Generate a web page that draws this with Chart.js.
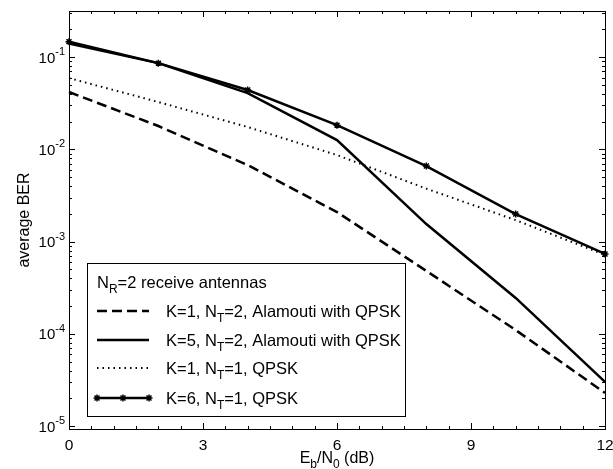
<!DOCTYPE html>
<html>
<head>
<meta charset="utf-8">
<script src="https://cdn.jsdelivr.net/npm/chart.js@4.4.1/dist/chart.umd.min.js"></script>
<style>
  html, body { margin: 0; padding: 0; background: #fff; }
  #wrap { width: 613px; height: 469px; }
</style>
</head>
<body>
<div id="wrap"><canvas id="berChart" width="613" height="469"></canvas></div>
<script>
// Eb/N0 in dB, sampled every 2 dB
const ebno = [0, 2, 4, 6, 8, 10, 12];

// average BER
const berAlamoutiK1 = [0.0418, 0.0179, 0.00676, 0.00209, 4.81e-4, 1.10e-4, 2.29e-5];
const berAlamoutiK5 = [0.140, 0.086, 0.0407, 0.0126, 1.55e-3, 2.45e-4, 3.01e-5];
const berQpskK1 = [0.0592, 0.0326, 0.01746, 8.67e-3, 3.75e-3, 1.71e-3, 7.16e-4];
const berQpskK6 = [0.147, 0.086, 0.044, 0.0183, 6.59e-3, 1.99e-3, 7.34e-4];

const seriesLabels = [
  "K=1, N_{T}=2, Alamouti with QPSK",
  "K=5, N_{T}=2, Alamouti with QPSK",
  "K=1, N_{T}=1, QPSK",
  "K=6, N_{T}=1, QPSK"
];
const legendTitle = "N_{R}=2 receive antennas";
const xTitle = "E_{b}/N_{0} (dB)";
const yTitle = "average BER";

const xTicks = [0, 3, 6, 9, 12];
const yExponents = [-1, -2, -3, -4, -5];

const FONT = "'Liberation Sans', Arial, Helvetica, sans-serif";

function toPoints(ys) {
  return ebno.map((x, i) => ({ x: x, y: ys[i] }));
}

// draws text with _{sub} and ^{sup} parts, y is the baseline
function drawRich(ctx, str, x, y, size, align) {
  const parts = [];
  const re = /([_^])\{([^}]*)\}|([^_^]+)/g;
  let m;
  while ((m = re.exec(str)) !== null) {
    if (m[1]) parts.push({ t: m[2], k: m[1] === "_" ? "sub" : "sup" });
    else parts.push({ t: m[3], k: "n" });
  }
  const small = Math.round(size * 0.72);
  let total = 0;
  parts.forEach(p => {
    ctx.font = (p.k === "n" ? size : small) + "px " + FONT;
    p.w = ctx.measureText(p.t).width;
    total += p.w;
  });
  let cx = x;
  if (align === "right") cx = x - total;
  if (align === "center") cx = x - total / 2;
  ctx.textBaseline = "alphabetic";
  ctx.textAlign = "left";
  parts.forEach(p => {
    ctx.font = (p.k === "n" ? size : small) + "px " + FONT;
    let dy = 0;
    if (p.k === "sub") dy = size * 0.33;
    if (p.k === "sup") dy = -size * 0.5;
    ctx.fillText(p.t, cx, y + dy);
    cx += p.w;
  });
}

const matlabLook = {
  id: "matlabLook",
  afterDatasetsDraw(chart) {
    const ctx = chart.ctx;
    const ca = chart.chartArea;
    const xs = chart.scales.x;
    const ys = chart.scales.y;
    ctx.save();
    ctx.strokeStyle = "#000";
    ctx.fillStyle = "#000";
    ctx.lineWidth = 1;
    ctx.setLineDash([]);

    // box
    ctx.strokeRect(ca.left + 0.5, ca.top + 0.5, ca.right - ca.left, ca.bottom - ca.top);

    // x ticks, inward on bottom and top
    ctx.beginPath();
    for (let v = 0; v <= 12; v += 0.5) {
      const px = Math.round(xs.getPixelForValue(v)) + 0.5;
      const len = v % 3 === 0 ? 6 : 3;
      ctx.moveTo(px, ca.bottom); ctx.lineTo(px, ca.bottom - len);
      ctx.moveTo(px, ca.top); ctx.lineTo(px, ca.top + len);
    }
    // y ticks (log minor), inward on left and right
    for (let e = -6; e <= 0; e++) {
      for (let k = 1; k <= 9; k++) {
        const v = k * Math.pow(10, e);
        if (v < ys.min || v > ys.max) continue;
        const py = Math.round(ys.getPixelForValue(v)) + 0.5;
        const len = k === 1 ? 6 : 3;
        ctx.moveTo(ca.left, py); ctx.lineTo(ca.left + len, py);
        ctx.moveTo(ca.right, py); ctx.lineTo(ca.right - len, py);
      }
    }
    ctx.stroke();

    // tick labels
    xTicks.forEach(v => {
      drawRich(ctx, String(v), xs.getPixelForValue(v), ca.bottom + 21, 15.5, "center");
    });
    yExponents.forEach(e => {
      const py = ys.getPixelForValue(Math.pow(10, e));
      drawRich(ctx, "10^{" + (e < 0 ? "-" + (-e) : e) + "}", ca.left - 4, py + 5.5, 15, "right");
    });

    // axis titles
    drawRich(ctx, xTitle, (ca.left + ca.right) / 2, ca.bottom + 34, 16, "center");
    ctx.save();
    ctx.translate(25, (ca.top + ca.bottom) / 2);
    ctx.rotate(-Math.PI / 2);
    ctx.font = "16px " + FONT;
    ctx.textAlign = "center";
    ctx.textBaseline = "middle";
    ctx.fillText(yTitle, 0, 0);
    ctx.restore();

    // legend box
    const bx = ca.left + 18, by = ca.bottom - 166, bw = 318, bh = 153;
    ctx.fillStyle = "#fff";
    ctx.fillRect(bx, by, bw, bh);
    ctx.strokeRect(bx + 0.5, by + 0.5, bw, bh);
    ctx.fillStyle = "#000";
    drawRich(ctx, legendTitle, bx + 10, by + 25, 16.5, "left");
    const rowY = [48, 77, 105, 135];
    chart.data.datasets.forEach((ds, i) => {
      const cy = by + rowY[i];
      ctx.save();
      ctx.strokeStyle = ds.borderColor;
      ctx.lineWidth = ds.borderWidth;
      ctx.setLineDash(ds.borderDash || []);
      ctx.beginPath();
      ctx.moveTo(bx + 10, cy);
      ctx.lineTo(bx + 62, cy);
      ctx.stroke();
      ctx.setLineDash([]);
      if (ds.pointRadius > 0) {
        ctx.strokeStyle = ds.pointBorderColor;
        ctx.lineWidth = ds.pointBorderWidth;
        [bx + 10, bx + 36, bx + 62].forEach(px => {
          Chart.helpers.drawPoint(ctx, {
            pointStyle: ds.pointStyle, radius: ds.pointRadius,
            borderWidth: ds.pointBorderWidth, rotation: 0
          }, px, cy);
        });
      }
      ctx.restore();
      ctx.fillStyle = "#000";
      drawRich(ctx, seriesLabels[i], bx + 79, cy + 6, 16.5, "left");
    });
    ctx.restore();
  }
};

new Chart(document.getElementById("berChart").getContext("2d"), {
  type: "line",
  data: {
    datasets: [
      {
        label: seriesLabels[0], data: toPoints(berAlamoutiK1),
        borderColor: "#000", borderWidth: 2.5, borderDash: [10, 5],
        pointRadius: 0, clip: 8
      },
      {
        label: seriesLabels[1], data: toPoints(berAlamoutiK5),
        borderColor: "#000", borderWidth: 2.5,
        pointRadius: 0, clip: 8
      },
      {
        label: seriesLabels[2], data: toPoints(berQpskK1),
        borderColor: "#000", borderWidth: 2, borderDash: [1.5, 4],
        pointRadius: 0, clip: 8
      },
      {
        label: seriesLabels[3], data: toPoints(berQpskK6),
        borderColor: "#000", borderWidth: 2.5,
        pointStyle: "star", pointRadius: 3.5, pointBorderWidth: 1.5,
        pointBorderColor: "#000", pointBackgroundColor: "#000", clip: 8
      }
    ]
  },
  options: {
    responsive: false,
    animation: false,
    devicePixelRatio: 1,
    layout: { padding: { top: 11, right: 8, left: 0, bottom: 0 } },
    plugins: { legend: { display: false }, tooltip: { enabled: false } },
    elements: { line: { tension: 0 } },
    scales: {
      x: {
        type: "linear", min: 0, max: 12,
        ticks: { display: false },
        grid: { display: false },
        border: { display: false },
        afterFit: s => { s.height = 40; }
      },
      y: {
        type: "logarithmic", min: 9.3e-6, max: 0.316,
        ticks: { display: false },
        grid: { display: false },
        border: { display: false },
        afterFit: s => { s.width = 69; }
      }
    }
  },
  plugins: [matlabLook]
});
</script>
</body>
</html>
